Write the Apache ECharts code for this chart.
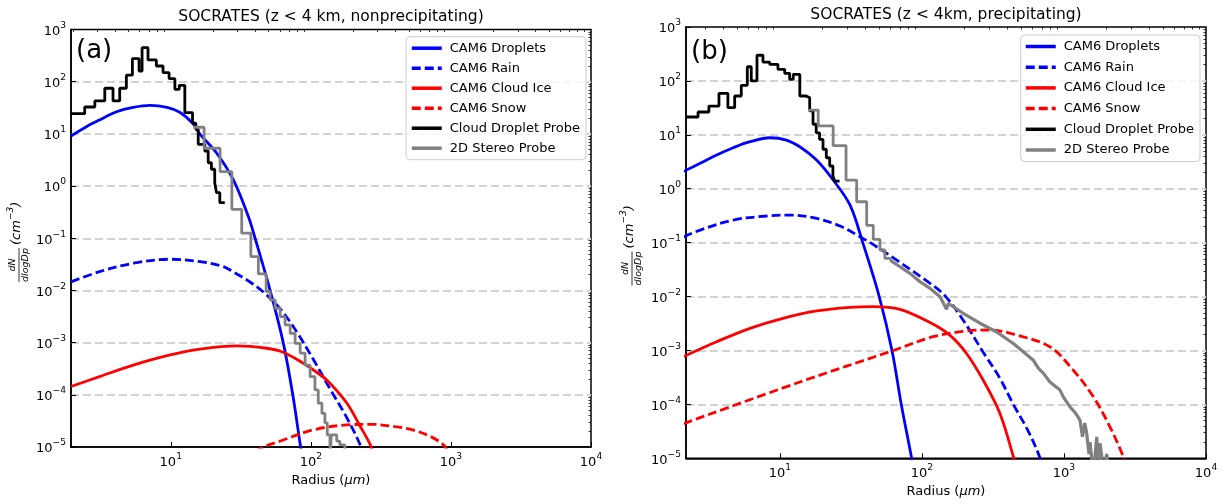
<!DOCTYPE html>
<html><head><meta charset="utf-8">
<script src="https://cdn.jsdelivr.net/npm/echarts@6/dist/echarts.min.js"></script>
<style>html,body{margin:0;padding:0;background:#fff}#c{width:1225px;height:504px}</style>
</head><body><div id="c"></div>
<script>
// ---------- data (radius in µm, dN/dlogDp in cm^-3) ----------
const seriesNames = ['CAM6 Droplets','CAM6 Rain','CAM6 Cloud Ice','CAM6 Snow','Cloud Droplet Probe','2D Stereo Probe'];
const titleA = 'SOCRATES (z < 4 km, nonprecipitating)';
const titleB = 'SOCRATES (z < 4km, precipitating)';
const xMajor = [10, 100, 1000, 10000];
const yMajor = [1e-5, 1e-4, 1e-3, 1e-2, 1e-1, 1, 10, 100, 1000];

// Panel (a)
const dropA_r = [1.94, 2.5, 3.1, 4.1, 5.4, 7.1, 9.4, 11.6, 14.5, 16.1, 21.3, 28, 35.8, 40, 44.7, 51.2, 63.5, 74.3, 84.5, 88];
const dropA_n = [9.1, 13.7, 18.5, 26.6, 32.3, 35.3, 32.3, 25.9, 15.5, 10, 4.25, 1.31, 0.26, 0.1, 0.036, 0.01, 0.001, 1e-4, 1e-5, 5e-6];
const rainA_r = [1.94, 3.1, 5.4, 9.9, 16.2, 23.8, 28, 36.8, 48.4, 62, 79.4, 104, 137, 181, 225, 235];
const rainA_n = [0.0146, 0.0229, 0.0332, 0.0396, 0.0356, 0.0286, 0.0225, 0.0145, 0.0082, 0.0041, 0.0016, 4.8e-4, 1.3e-4, 3.6e-5, 1.1e-5, 7e-6];
const iceA_r = [1.94, 3.1, 5.4, 9.9, 16.2, 29.6, 48.4, 62, 83.8, 116, 137, 181, 225, 266, 275];
const iceA_n = [1.44e-4, 2.23e-4, 3.7e-4, 5.8e-4, 7.5e-4, 8.65e-4, 7.8e-4, 6.7e-4, 4.4e-4, 2.45e-4, 1.67e-4, 6.9e-5, 2.5e-5, 1.1e-5, 8e-6];
const snowA_r = [40, 45.8, 62, 104, 181, 270, 400, 541, 711, 885, 950];
const snowA_n = [8e-6, 1e-5, 1.33e-5, 2.13e-5, 2.65e-5, 2.72e-5, 2.45e-5, 2.1e-5, 1.6e-5, 1.1e-5, 8e-6];
const cdpA_r = [1.94, 2.43, 2.87, 3.38, 3.87, 4.32, 4.82, 5.32, 5.94, 6.24, 6.88, 7.89, 8.81, 9.73, 10.7, 11.5, 12.6, 14.3, 15.1, 15.7, 17.5, 18.5, 19.5, 20.6, 21.2, 22.4, 24.3];
const cdpA_n = [24.4, 32.7, 42.7, 74.8, 42.7, 74.8, 133, 276, 160, 448, 261, 200, 149, 114, 71.5, 85, 25.5, 16, 12.2, 6.3, 4.7, 2.8, 2.1, 1.16, 0.75, 0.48, 0.48];
const sdsA_r = [14.5, 17.3, 22.5, 27.3, 32.1, 37.3, 42.2, 48, 51.2, 55.6, 60.4, 65.5, 71.2, 77.2, 83.9, 91, 98.8, 107, 113, 120, 126, 131, 137, 140, 153, 161, 175, 185];
const sdsA_n = [13.4, 5.3, 1.89, 0.359, 0.125, 0.0445, 0.0207, 0.0095, 0.0066, 0.00456, 0.00315, 0.00218, 0.0015, 0.00097, 0.00063, 0.00037, 0.000223, 0.000124, 6.9e-5, 4.4e-5, 2.9e-5, 1.7e-5, 5e-6, 1.7e-5, 1.3e-5, 1.1e-5, 5e-6, 5e-6];

// Panel (b)
const dropB_r = [2.1, 2.74, 3.58, 4.69, 6.15, 8.5, 11.1, 13.8, 18.1, 23.7, 31.1, 38.3, 50, 61.5, 71.5, 84.6, 88];
const dropB_n = [2.1, 2.96, 4.22, 5.77, 7.45, 8.83, 8.0, 6.0, 3.4, 1.45, 0.5, 0.1, 0.01, 0.001, 1e-4, 1e-5, 5e-6];
const rainB_r = [2.1, 2.74, 4.69, 8.06, 11.8, 18.1, 26.5, 36.6, 48, 66.4, 114, 147, 200, 265, 350, 440, 560, 675, 700];
const rainB_n = [0.128, 0.171, 0.263, 0.312, 0.325, 0.282, 0.203, 0.129, 0.084, 0.0475, 0.0176, 0.01, 0.0033, 0.001, 3.2e-4, 1e-4, 3.2e-5, 1.05e-5, 7e-6];
const iceB_r = [2.1, 3.58, 6.15, 10.5, 18.1, 31.1, 45.4, 70, 114, 157, 206, 270, 354, 440, 455];
const iceB_n = [7.7e-4, 1.45e-3, 2.57e-3, 3.94e-3, 5.4e-3, 6.3e-3, 6.5e-3, 5.8e-3, 3.3e-3, 1.93e-3, 8.8e-4, 2.8e-4, 6.8e-5, 1.07e-5, 7e-6];
const snowB_r = [2.1, 13.8, 62.8, 120, 206, 301, 464, 796, 1163, 1610, 2110, 2618, 2750];
const snowB_n = [4.4e-5, 2.6e-4, 1.0e-3, 1.8e-3, 2.3e-3, 2.4e-3, 1.93e-3, 1.17e-3, 4.3e-4, 1.38e-4, 3.8e-5, 1.07e-5, 7e-6];
const cdpB_r = [2.18, 2.65, 3.16, 3.72, 4.3, 4.8, 5.34, 5.89, 6.28, 6.89, 7.59, 8.46, 9.68, 10.8, 11.7, 12.4, 13.8, 15.3, 16.2, 17.1, 18, 19, 20.1, 21.2, 22.4, 23.6, 24.3, 26.3];
const cdpB_n = [21.4, 26.5, 34.2, 58.9, 31.9, 52.5, 82.8, 183, 100, 299, 224, 203, 164, 138, 107, 132, 52.5, 48.8, 27.7, 15.7, 10.9, 8.2, 5.4, 3.76, 2.64, 1.72, 1.39, 1.39];
// 2DS in (b): coarse bins drawn as steps, fine bins drawn as a jagged line
const sdsB_r = [15.8, 18.6, 23.7, 29.2, 34.7, 40.8, 45.4, 50.6, 54.8, 59.6];
const sdsB_n = [28.8, 14.6, 6.3, 1.45, 0.574, 0.21, 0.115, 0.073, 0.051, 0.0475];
const sdsB2_r = [59.6, 70, 82.3, 96.8, 114, 134, 149, 153, 195, 256, 336, 440, 517, 608, 659, 715, 796, 937, 989, 1102, 1200, 1297, 1350, 1400, 1445, 1500, 1525, 1610, 1700, 1750, 1795, 1900, 2000, 2100];
const sdsB2_n = [0.0475, 0.0357, 0.0269, 0.0188, 0.0142, 0.0099, 0.0058, 0.0075, 0.0049, 0.0032, 0.0022, 0.00135, 9.5e-4, 6.6e-4, 4.7e-4, 3.8e-4, 2.6e-4, 1.84e-4, 1.38e-4, 9e-5, 7e-5, 5.1e-5, 2.5e-5, 4.5e-5, 2.9e-5, 1.2e-5, 2e-5, 5e-6, 2.5e-5, 8e-6, 1.9e-5, 6e-6, 1.2e-5, 5e-6];

// ---------- helpers ----------
const FONT = 'DejaVu Sans';
const pair = (r, n) => r.map((v, i) => [v, n[i]]);
const minorOf = (decades) => { const out = []; decades.forEach(d => { for (let k = 2; k <= 9; k++) out.push(d * k); }); return out; };
const xMinor = minorOf([1, 10, 100, 1000]);
const yMinor = minorOf([1e-5, 1e-4, 1e-3, 1e-2, 1e-1, 1, 10, 100]);
const powFmt = v => { const e = Math.round(Math.log10(v)); return '{b|10}{s|' + (e < 0 ? '\u2212' + (-e) : e) + '}'; };
const tickRich = {
  b: { fontSize: 13, fontFamily: FONT, color: '#000', lineHeight: 17, verticalAlign: 'bottom' },
  s: { fontSize: 9.1, fontFamily: FONT, color: '#000', lineHeight: 11, verticalAlign: 'top' }
};

const panels = [
  { grid: { left: 71, top: 29.5, width: 520, height: 417.5 }, xmin: 1.94, nameGap: 26,
    d: [dropA_r, dropA_n, rainA_r, rainA_n, iceA_r, iceA_n, snowA_r, snowA_n, cdpA_r, cdpA_n, sdsA_r, sdsA_n] },
  { grid: { left: 686, top: 27, width: 520, height: 431.3 }, xmin: 2.18, nameGap: 26.5,
    d: [dropB_r, dropB_n, rainB_r, rainB_n, iceB_r, iceB_n, snowB_r, snowB_n, cdpB_r, cdpB_n, sdsB_r, sdsB_n],
    extra: [sdsB2_r, sdsB2_n] }
];

const LW = 2.8;
const styles = [
  { color: '#0000ff', type: 'solid', smooth: 0.35 },
  { color: '#0000ff', type: [9, 4], smooth: 0.35 },
  { color: '#ff0000', type: 'solid', smooth: 0.35 },
  { color: '#ff0000', type: [9, 4], smooth: 0.35 },
  { color: '#000000', type: 'solid', step: 'end' },
  { color: '#808080', type: 'solid', step: 'end' }
];

const grids = [], xAxes = [], yAxes = [], series = [];
panels.forEach((p, pi) => {
  grids.push(Object.assign({ show: true, borderColor: '#000', borderWidth: 1.5, backgroundColor: 'transparent' }, p.grid));
  const base = { type: 'log', logBase: 10, gridIndex: pi };
  xAxes.push(Object.assign({}, base, {
    min: p.xmin, max: 10000,
    axisLine: { show: true, onZero: false, lineStyle: { color: '#000', width: 1.5 } },
    axisTick: { show: true, inside: true, length: 5, lineStyle: { color: '#000', width: 1 }, customValues: xMajor },
    axisLabel: { show: true, customValues: xMajor, formatter: powFmt, rich: tickRich, margin: 5 },
    splitLine: { show: false },
    name: '{n|Radius (}{i|\u00b5m}{n|)}', nameLocation: 'middle', nameGap: p.nameGap,
    nameTextStyle: { rich: { n: { fontSize: 13, fontFamily: FONT, color: '#000' }, i: { fontSize: 13, fontFamily: FONT, fontStyle: 'italic', color: '#000' } } }
  }));
  xAxes.push(Object.assign({}, base, {
    min: p.xmin, max: 10000,
    axisLine: { show: false },
    axisTick: { show: true, inside: true, length: 2.5, lineStyle: { color: '#000', width: 0.8 }, customValues: xMinor },
    axisLabel: { show: false }, splitLine: { show: false }
  }));
  yAxes.push(Object.assign({}, base, {
    min: 1e-5, max: 1e3,
    axisLine: { show: true, onZero: false, lineStyle: { color: '#000', width: 1.5 } },
    axisTick: { show: true, inside: true, length: 5, lineStyle: { color: '#000', width: 1 }, customValues: yMajor },
    axisLabel: { show: true, customValues: yMajor, formatter: powFmt, rich: tickRich, margin: 5 },
    splitLine: { show: true, showMinLine: false, showMaxLine: false, lineStyle: { color: '#d3d3d3', width: 2, type: [8, 4] } }
  }));
  yAxes.push(Object.assign({}, base, {
    min: 1e-5, max: 1e3,
    axisLine: { show: false },
    axisTick: { show: true, inside: true, length: 2.5, lineStyle: { color: '#000', width: 0.8 }, customValues: yMinor },
    axisLabel: { show: false }, splitLine: { show: false }
  }));
  const xi = pi * 2, yi = pi * 2;
  const mk = (name, data, s, z, w) => ({
    name: name, type: 'line', xAxisIndex: xi, yAxisIndex: yi, data: data,
    symbol: 'none', showSymbol: false, clip: true,
    smooth: s.smooth || false, step: s.step || false,
    lineStyle: { color: s.color, width: w || LW, type: s.type },
    itemStyle: { color: s.color }, z: z, animation: false
  });
  styles.forEach((s, k) => series.push(mk(seriesNames[k], pair(p.d[2 * k], p.d[2 * k + 1]), s, 3 + k)));
  if (p.extra) series.push(mk(seriesNames[5], pair(p.extra[0], p.extra[1]), { color: '#808080', type: 'solid' }, 8, 3.2));
});

const legendBase = {
  orient: 'vertical', selectedMode: false, data: seriesNames,
  itemWidth: 30, itemHeight: 14, backgroundColor: 'rgba(255,255,255,0.8)',
  borderColor: '#cccccc', borderWidth: 1, borderRadius: 4,
  itemStyle: { opacity: 0, borderWidth: 0 },
  lineStyle: { width: 3.5 },
  textStyle: { fontSize: 13, fontFamily: FONT, color: '#000', padding: [0, 0, 0, 3] }
};

const yNameGroup = (x, y) => ({
  type: 'group', x: x, y: y, rotation: Math.PI / 2,
  children: [
    { type: 'text', x: 0, y: -6, style: { text: 'dN', fontSize: 9.5, fontFamily: FONT, fontStyle: 'italic', fill: '#000', align: 'center', verticalAlign: 'middle', textAlign: 'center', textVerticalAlign: 'middle' } },
    { type: 'line', shape: { x1: -17, y1: 0, x2: 17, y2: 0 }, style: { stroke: '#000', lineWidth: 0.8 } },
    { type: 'text', x: 0, y: 6.5, style: { text: 'dlogDp', fontSize: 9.5, fontFamily: FONT, fontStyle: 'italic', fill: '#000', align: 'center', verticalAlign: 'middle', textAlign: 'center', textVerticalAlign: 'middle' } },
    { type: 'text', x: 20, y: -4.5, style: { text: '{i|(cm}{s|\u22123}{i|)}', align: 'left', verticalAlign: 'middle', textAlign: 'left', textVerticalAlign: 'middle',
      rich: { i: { fontSize: 13, fontFamily: FONT, fontStyle: 'italic', fill: '#000', color: '#000', lineHeight: 17, verticalAlign: 'bottom' },
              s: { fontSize: 9, fontFamily: FONT, fontStyle: 'italic', fill: '#000', color: '#000', lineHeight: 11, verticalAlign: 'top' } } } }
  ]
});
const plainText = (x, y, text, size, align) => ({ type: 'text', x: x, y: y,
  style: { text: text, fontSize: size, fontFamily: FONT, fill: '#000', align: align || 'center', verticalAlign: 'middle', textAlign: align || 'center', textVerticalAlign: 'middle' } });

const chart = echarts.init(document.getElementById('c'), null, { renderer: 'canvas' });
chart.setOption({
  animation: false,
  backgroundColor: '#ffffff',
  grid: grids, xAxis: xAxes, yAxis: yAxes, series: series,
  legend: [
    Object.assign({}, legendBase, { left: 406, top: 36.7, itemGap: 7, padding: [5, 6, 5, 4] }),
    Object.assign({}, legendBase, { left: 1020.7, top: 35, itemGap: 7.7, padding: [5, 6, 5, 3.3] })
  ],
  graphic: [
    plainText(331, 16.5, titleA, 15.5),
    plainText(946, 14.5, titleB, 15.5),
    plainText(76, 51, '(a)', 26, 'left'),
    plainText(691, 52, '(b)', 26, 'left'),
    yNameGroup(19, 265),
    yNameGroup(632, 268.5)
  ]
});
</script></body></html>
